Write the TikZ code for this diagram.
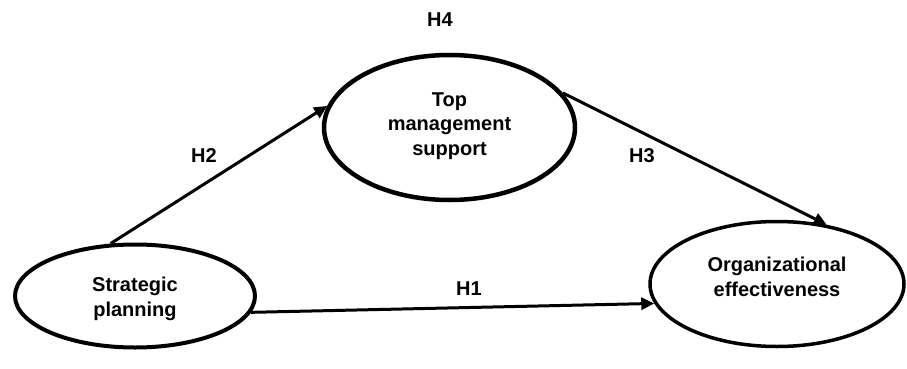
\documentclass[tikz,border=0pt]{standalone}
\usepackage{fontspec}
\setmainfont{Liberation Sans}
\usetikzlibrary{shapes.geometric,arrows.meta}
\tikzset{
  construct/.style={ellipse,draw=black,inner sep=0pt},
  lbl/.style={font=\fontsize{20}{24.5}\selectfont\bfseries,align=center,inner sep=0pt},
  path arrow/.style={line width=3pt,-{Triangle[length=13pt,width=12pt]}},
}
\begin{document}
\begin{tikzpicture}[x=1pt,y=-1pt]
\useasboundingbox (0,0) rectangle (907,369);
\node[construct,line width=4pt,minimum width=240pt,minimum height=103pt] (sp) at (135,296) {};
\node[construct,line width=4.5pt,minimum width=251pt,minimum height=145pt] (tm) at (449.5,127.5) {};
\node[construct,line width=3.5pt,minimum width=254pt,minimum height=125pt] (oe) at (777,284) {};
\node[lbl] (sptext) at (135,299) {Strategic\\planning};
\node[lbl] (tmtext) at (449.5,126) {Top\\management\\support};
\node[lbl] (oetext) at (777,277) {Organizational\\effectiveness};
\draw[path arrow] (sp.115) -- (tm.170);
\draw[path arrow] (tm.17) -- (oe.50);
\draw[path arrow] (sp.-8) -- (oe.189.6);
\node[lbl] (h1) at (469,289) {H1};
\node[lbl] (h2) at (204,156) {H2};
\node[lbl] (h3) at (642,156) {H3};
\node[lbl] (h4) at (440,20) {H4};
\end{tikzpicture}
\end{document}
